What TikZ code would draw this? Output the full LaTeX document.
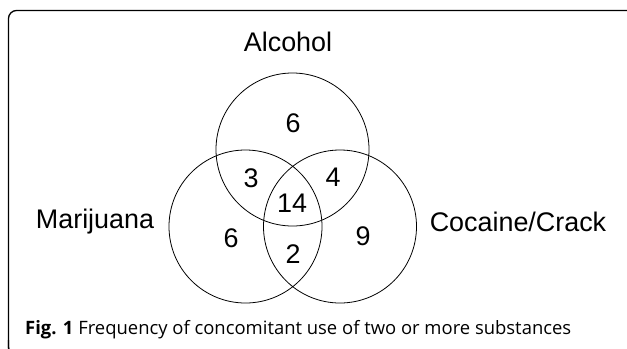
\documentclass[tikz,border=0pt]{standalone}
\usepackage{fontspec}
\setmainfont{Liberation Sans}
\newfontfamily\capfont{Open Sans}
\begin{document}
\begin{tikzpicture}[x=1bp,y=-1bp,
  setc/.style={draw=black, line width=0.8bp},
  num/.style={font=\fontsize{27}{27}\selectfont, inner sep=0pt},
  lab/.style={font=\fontsize{27}{27}\selectfont, inner sep=0pt},
  frame/.style={draw=black, line width=1.3bp, rounded corners=8bp}]
\useasboundingbox (0,0) rectangle (627,348);
\begin{scope}
\clip (0,0) rectangle (627,348);
\draw[frame] (8.5,352) -- (8.5,10.5) -- (640,10.5);
\draw[frame] (8.5,340) -- (8.5,355) -- (30,355);
\end{scope}
\node[setc, circle, minimum size=153bp, inner sep=0pt] (alc) at (292.5,149.5) {};
\node[setc, circle, minimum size=153bp, inner sep=0pt] (mar) at (245.5,226.5) {};
\node[setc, circle, minimum size=153bp, inner sep=0pt] (coc) at (340,226.5) {};
\node[lab] (lalc) at (288,42) {Alcohol};
\node[lab] (lmar) at (95,222) {Marijuana};
\node[lab] (lcoc) at (518,222) {Cocaine/Crack};
\node[num] (n1) at (293,123) {6};
\node[num] (n2) at (251,178) {3};
\node[num] (n3) at (333,177) {4};
\node[num] (n4) at (292,203) {14};
\node[num] (n5) at (231,238) {6};
\node[num] (n6) at (293,254) {2};
\node[num] (n7) at (363,236) {9};
\node[anchor=west, inner sep=0pt, font=\capfont\fontsize{18.5}{18.5}\selectfont] (cap) at (25,330) {\textbf{Fig. 1} Frequency of concomitant use of two or more substances};
\end{tikzpicture}
\end{document}
